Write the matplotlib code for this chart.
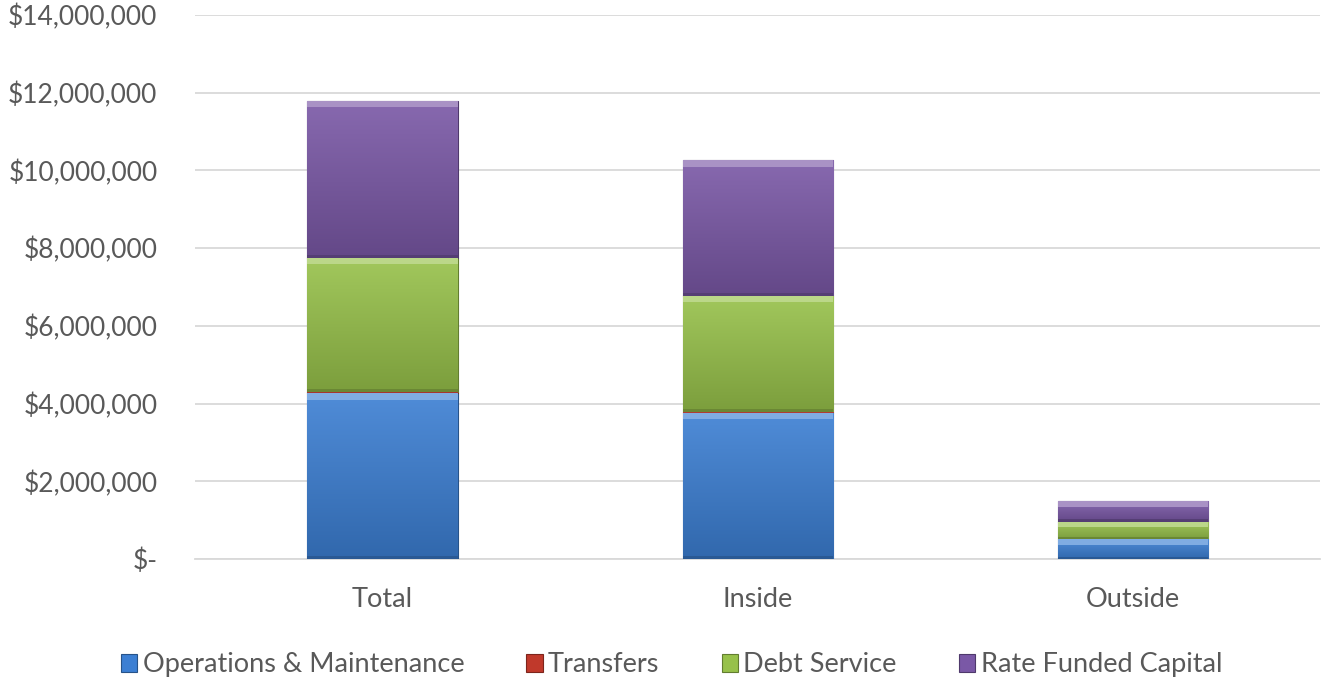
import numpy as np
import matplotlib.pyplot as plt
from matplotlib.ticker import FuncFormatter
from matplotlib.colors import to_rgb

# data (dollars)
categories = ['Total', 'Inside', 'Outside']
series_names = ['Operations & Maintenance', 'Transfers', 'Debt Service', 'Rate Funded Capital']
om = [4270000, 3760000, 510000]
transfers = [40000, 20000, 10000]
debt_service = [3440000, 3000000, 440000]
rate_capital = [4040000, 3490000, 530000]

colors = ['#3C7FD3', '#C0392B', '#97C14A', '#7A58A6']
text_color = '#595959'

plt.rcParams['font.family'] = ['Lato', 'DejaVu Sans']

fig = plt.figure(figsize=(13.22, 6.82), dpi=100)
ax = fig.add_axes([0.1475, 0.1804, 0.851, 0.7976])

x = np.arange(len(categories))
width = 0.40
bottom = np.zeros(len(categories))


def shade(c, f):
    r, g, b = to_rgb(c)
    if f > 0:
        return (r + (1 - r) * f, g + (1 - g) * f, b + (1 - b) * f)
    return (r * (1 + f), g * (1 + f), b * (1 + f))


for vals, name, col in zip([om, transfers, debt_service, rate_capital], series_names, colors):
    vals = np.array(vals, dtype=float)
    bars = ax.bar(x, vals, width, bottom=bottom, color=col, edgecolor=shade(col, -0.35),
                  linewidth=0.8, label=name, zorder=3)
    # soft vertical gradient inside each segment, plus bevel strips
    for b in bars:
        x0, y0 = b.get_x(), b.get_y()
        w, h = b.get_width(), b.get_height()
        grad = np.linspace(0, 1, 64).reshape(-1, 1)
        top = np.array(shade(col, 0.1))
        bot = np.array(shade(col, -0.18))
        img = bot + (top - bot) * grad[..., None]
        im = ax.imshow(img, extent=(x0, x0 + w, y0, y0 + h), origin='lower',
                       aspect='auto', zorder=3.5, interpolation='bilinear')
        im.set_clip_path(b)
        bev = min(h * 0.3, 170000)
        ax.bar(x0 + w / 2, bev, w, bottom=y0 + h - bev,
               color=shade(col, 0.35), linewidth=0, zorder=3.6)
        ax.bar(x0 + w / 2, bev * 0.4, w, bottom=y0,
               color=shade(col, -0.3), linewidth=0, zorder=3.6)
    bottom += vals

ax.set_xlim(-0.5, 2.5)
ax.set_ylim(0, 14000000)
ax.set_yticks(np.arange(0, 14000001, 2000000))
ax.yaxis.set_major_formatter(FuncFormatter(lambda v, p: '$-' if v == 0 else f'${v:,.0f}'))
ax.set_xticks(x)
ax.set_xticklabels(categories)

ax.grid(axis='y', color='#D9D9D9', linewidth=1.3, zorder=0)
for s in ['top', 'right', 'left']:
    ax.spines[s].set_visible(False)
ax.spines['bottom'].set_color('#D9D9D9')
ax.spines['bottom'].set_linewidth(1.3)
ax.tick_params(axis='x', length=0, labelsize=19.5, colors=text_color, pad=20)
ax.tick_params(axis='y', length=0, labelsize=19, colors=text_color, pad=27)

leg = fig.legend(*ax.get_legend_handles_labels(), loc='center', bbox_to_anchor=(0.508, 0.025),
                 ncol=4, frameon=False, fontsize=19.5, handlelength=0.6, handleheight=0.6,
                 handletextpad=0.2, columnspacing=2.3)
for t in leg.get_texts():
    t.set_color(text_color)

fig.savefig('out.png', dpi=100)
